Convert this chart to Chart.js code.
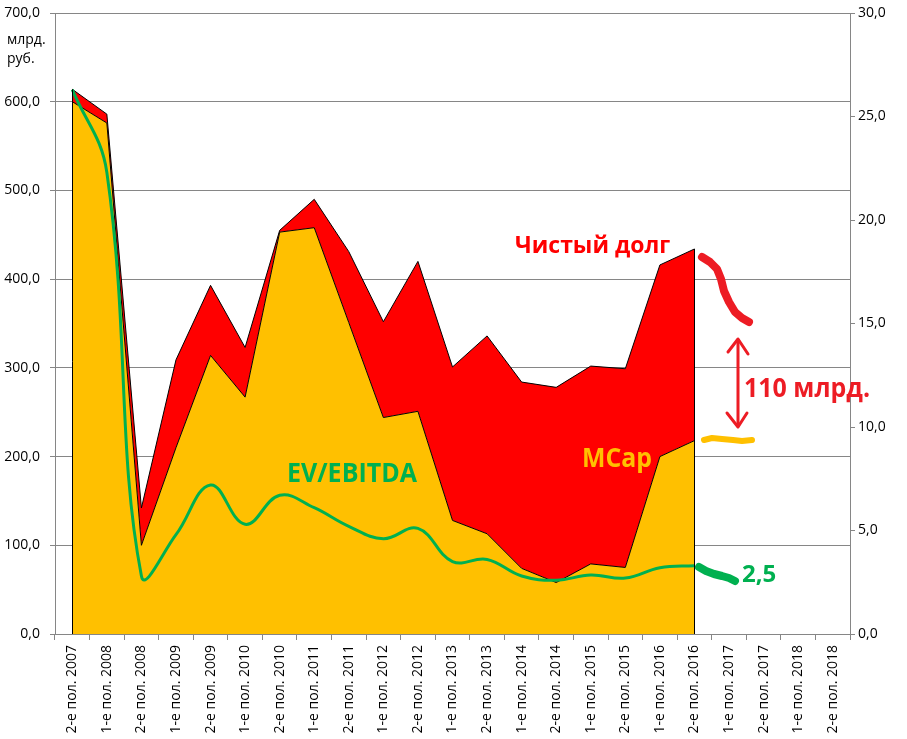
<!DOCTYPE html>
<html>
<head>
<meta charset="utf-8">
<script src="https://cdn.jsdelivr.net/npm/chart.js@4/dist/chart.umd.min.js"></script>
<style>
  html, body { margin: 0; padding: 0; background: #fff; }
  canvas { display: block; }
</style>
</head>
<body>
<canvas id="c" width="907" height="739"></canvas>
<script>
// half-year periods
var periods = [
  '2-е пол. 2007', '1-е пол. 2008', '2-е пол. 2008', '1-е пол. 2009', '2-е пол. 2009',
  '1-е пол. 2010', '2-е пол. 2010', '1-е пол. 2011', '2-е пол. 2011', '1-е пол. 2012',
  '2-е пол. 2012', '1-е пол. 2013', '2-е пол. 2013', '1-е пол. 2014', '2-е пол. 2014',
  '1-е пол. 2015', '2-е пол. 2015', '1-е пол. 2016', '2-е пол. 2016', '1-е пол. 2017',
  '2-е пол. 2017', '1-е пол. 2018', '2-е пол. 2018'
];

// млрд. руб.
var mcap = [600, 576, 100, 210, 314, 267, 453, 458, 351, 244, 251, 128, 113, 74, 58, 79, 75, 200, 218];
var netDebt = [14, 10, 42, 99, 79, 56, 2, 32, 80, 108, 169, 173, 223, 210, 220, 223, 224, 216, 216];

// EV/EBITDA, right axis
var evEbitda = [26.3, 22.3, 2.8, 4.8, 7.2, 5.3, 6.7, 6.1, 5.2, 4.6, 5.1, 3.5, 3.6, 2.8, 2.6, 2.85, 2.7, 3.2, 3.3];

var leftTicks = { min: 0, max: 700, step: 100 };
var rightTicks = { min: 0, max: 30, step: 5 };

var GRID = '#868686';
var FONT = "'Open Sans', 'Noto Sans', sans-serif";

function fmt(v) {
  return Number(v).toFixed(1).replace('.', ',');
}

function drawPath(ctx, pts, color, width) {
  ctx.save();
  ctx.strokeStyle = color;
  ctx.lineWidth = width;
  ctx.lineCap = 'round';
  ctx.lineJoin = 'round';
  ctx.beginPath();
  pts.forEach(function(p, i) {
    if (i === 0) ctx.moveTo(p[0], p[1]); else ctx.lineTo(p[0], p[1]);
  });
  ctx.stroke();
  ctx.restore();
}

function drawLabel(ctx, text, x, y, color, size, maxW) {
  ctx.save();
  ctx.fillStyle = color;
  ctx.font = 'bold ' + size + 'px ' + FONT;
  ctx.textBaseline = 'alphabetic';
  ctx.textAlign = 'left';
  if (maxW) ctx.fillText(text, x, y, maxW); else ctx.fillText(text, x, y);
  ctx.restore();
}

// closes the stacked area at its first and last point, like Excel does
var areaEdges = {
  id: 'areaEdges',
  afterDatasetsDraw: function(chart) {
    var ctx = chart.ctx;
    var meta = chart.getDatasetMeta(2);
    var base = chart.scales.y.getPixelForValue(0);
    var pts = [meta.data[0], meta.data[meta.data.length - 1]];
    ctx.save();
    ctx.strokeStyle = '#000';
    ctx.lineWidth = 1;
    pts.forEach(function(p) {
      ctx.beginPath();
      ctx.moveTo(Math.round(p.x) + 0.5, base);
      ctx.lineTo(Math.round(p.x) + 0.5, p.y);
      ctx.stroke();
    });
    ctx.restore();
  }
};

var notes = {
  id: 'notes',
  afterDraw: function(chart) {
    var ctx = chart.ctx;

    // unit label
    ctx.save();
    ctx.fillStyle = '#000';
    ctx.font = '14px ' + FONT;
    ctx.fillText('млрд.', 7, 44);
    ctx.fillText('руб.', 7, 63);
    ctx.restore();

    drawLabel(ctx, 'Чистый долг', 515, 253, '#ff0000', 23, 158);
    drawLabel(ctx, 'MCap', 582, 467, '#ffc000', 26, 70);
    drawLabel(ctx, 'EV/EBITDA', 287, 482, '#00b050', 26, 130);
    drawLabel(ctx, '110 млрд.', 744, 397, '#ed1c24', 26, 126);
    drawLabel(ctx, '2,5', 742, 582, '#00b050', 24, 38);

    // hand-drawn marks
    drawPath(ctx, [[702, 257], [710, 262], [717, 269], [721, 279], [724, 291], [729, 302], [735, 312], [742, 318], [749, 322]], '#ed1c24', 8);
    drawPath(ctx, [[704, 440], [712, 438], [722, 439], [733, 440], [742, 441], [752, 440]], '#ffc000', 6);
    drawPath(ctx, [[699, 567], [706, 571], [714, 574], [722, 576], [729, 578], [735, 581]], '#00b050', 8);

    // double arrow
    drawPath(ctx, [[738, 340], [738, 426]], '#ed1c24', 3);
    drawPath(ctx, [[728, 352], [738, 339], [748, 354]], '#ed1c24', 3);
    drawPath(ctx, [[727, 413], [738, 427], [747, 413]], '#ed1c24', 3);
  }
};

function fitVertical(width) {
  return function(s) {
    s.width = width;
    s.paddingTop = 0;
    s.paddingBottom = 0;
  };
}

new Chart(document.getElementById('c'), {
  type: 'line',
  data: {
    labels: periods,
    datasets: [
      {
        label: 'EV/EBITDA',
        data: evEbitda,
        yAxisID: 'y1',
        borderColor: '#00b050',
        borderWidth: 3,
        tension: 0.4,
        pointRadius: 0,
        fill: false,
        order: 0
      },
      {
        label: 'MCap',
        data: mcap,
        yAxisID: 'y',
        stack: 'ev',
        borderColor: '#000',
        borderWidth: 1,
        backgroundColor: '#ffc000',
        tension: 0,
        pointRadius: 0,
        fill: 'origin',
        order: 1
      },
      {
        label: 'Чистый долг',
        data: netDebt,
        yAxisID: 'y',
        stack: 'ev',
        borderColor: '#000',
        borderWidth: 1,
        backgroundColor: '#ff0000',
        tension: 0,
        pointRadius: 0,
        fill: '-1',
        order: 2
      }
    ]
  },
  options: {
    responsive: false,
    animation: false,
    layout: { padding: { top: 13, left: 0, right: 0, bottom: 0 } },
    plugins: {
      legend: { display: false },
      tooltip: { enabled: false }
    },
    scales: {
      x: {
        offset: true,
        grid: {
          offset: true,
          drawOnChartArea: false,
          drawTicks: true,
          tickLength: 6,
          color: GRID
        },
        border: { color: GRID },
        ticks: {
          autoSkip: false,
          minRotation: 90,
          maxRotation: 90,
          padding: 5,
          color: '#000',
          font: { family: FONT, size: 14 }
        },
        afterFit: function(s) { s.height = 105; }
      },
      y: {
        position: 'left',
        stacked: true,
        min: leftTicks.min,
        max: leftTicks.max,
        grid: { color: GRID, tickLength: 5 },
        border: { color: GRID },
        ticks: {
          stepSize: leftTicks.step,
          padding: 10,
          color: '#000',
          font: { family: FONT, size: 14 },
          callback: function(v) { return fmt(v); }
        },
        afterFit: fitVertical(55)
      },
      y1: {
        position: 'right',
        min: rightTicks.min,
        max: rightTicks.max,
        grid: { drawOnChartArea: false, color: GRID, tickLength: 5 },
        border: { color: GRID },
        ticks: {
          stepSize: rightTicks.step,
          padding: 3,
          color: '#000',
          font: { family: FONT, size: 14 },
          callback: function(v) { return fmt(v); }
        },
        afterFit: fitVertical(57)
      }
    }
  },
  plugins: [areaEdges, notes]
});
</script>
</body>
</html>
